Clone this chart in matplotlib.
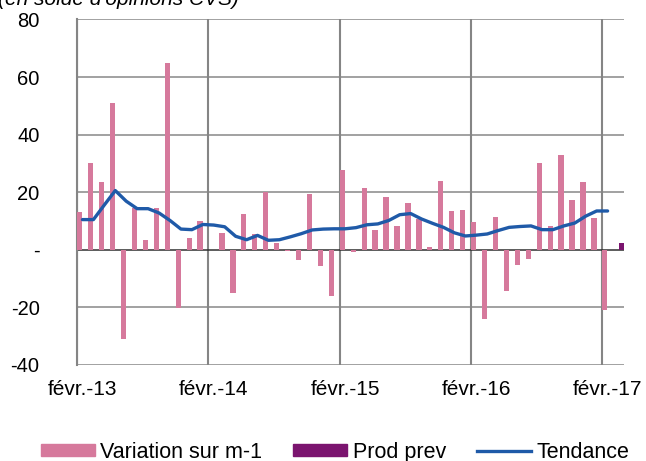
import matplotlib
matplotlib.use("Agg")
import matplotlib.pyplot as plt
from matplotlib.patches import Patch
from matplotlib.lines import Line2D
import numpy as np

plt.rcParams['font.family'] = ['Liberation Sans', 'DejaVu Sans']

# Months Feb 2013 .. Feb 2017 (49 months) + prevision for Mar 2017
variation = [13, 30, 23.5, 51, -31, 14.5, 3.2, 14.5, 65, -20.2, 4, 9.9,
             0, 5.8, -15, 12.4, 5.4, 19.9, 2.4, -0.6, -3.8, 19.4, -5.8, -16.3,
             27.8, -0.8, 21.4, 6.9, 18.4, 8.3, 16.3, 10.5, 0.8, 23.9, 13.4, 13.8,
             9.5, -24.3, 11.4, -14.5, -5.4, -3.4, 30.2, 8.3, 32.8, 17.1, 23.5, 10.9,
             -21.0]
tendance = [10.4, 10.4, 15.5, 20.5, 16.8, 14.2, 14.2, 12.7, 10.1, 7.1, 6.9, 8.7,
            8.5, 7.9, 4.6, 3.4, 4.9, 3.2, 3.4, 4.4, 5.5, 6.8, 7.1, 7.2,
            7.2, 7.6, 8.6, 8.9, 10.1, 12.1, 12.5, 10.6, 9.1, 7.7, 5.8, 4.7,
            5.0, 5.4, 6.6, 7.7, 8.0, 8.2, 6.9, 6.9, 8.2, 9.2, 11.6, 13.4,
            13.4]
prod_prev = [2.4]          # Mar 2017
tick_labels = ['févr.-13', 'févr.-14', 'févr.-15', 'févr.-16', 'févr.-17']
y_ticks = [-40, -20, 0, 20, 40, 60, 80]
y_labels = ['-40', '-20', '-', '20', '40', '60', '80']

pink = '#D6799C'
purple = '#7B146F'
blue = '#1F5AA8'

fig = plt.figure(figsize=(6.46, 4.61), dpi=100)
ax = fig.add_axes([77/646, 1-364.5/461, 547/646, 345/461])

n = len(variation)
x = np.arange(n)
ax.bar(x - 0.25, variation, width=0.48, color=pink, zorder=3)
xp = np.arange(n, n + len(prod_prev))
ax.bar(xp + 0.25, prod_prev, width=0.48, color=purple, zorder=3)
ax.plot(np.arange(len(tendance)), tendance, color=blue, lw=2.4, zorder=4,
        solid_capstyle='round', solid_joinstyle='round')

ax.set_xlim(-0.5, n + len(prod_prev) - 0.5)
ax.set_ylim(-40, 80)
ax.set_yticks(y_ticks)
ax.set_yticklabels(y_labels)
tick_pos = np.arange(0, n, 12)
ax.set_xticks(tick_pos)
ax.set_xticklabels(tick_labels)
ax.tick_params(axis='both', length=0)
ax.tick_params(axis='y', pad=27, labelsize=14.5)
ax.tick_params(axis='x', pad=11, labelsize=15)

for yv in y_ticks:
    if yv == 0:
        ax.axhline(0, color='#303030', lw=1.1, zorder=2)
    else:
        ax.axhline(yv, color='#9a9a9a', lw=1.3, zorder=1)
for xv in tick_pos:
    ax.axvline(xv - 0.5, color='#858585', lw=1.5, zorder=1)

for s in ['top', 'right', 'bottom']:
    ax.spines[s].set_visible(False)
ax.spines['left'].set_color('#858585')
ax.spines['left'].set_linewidth(1.5)

fig.text(-2/646, 1-5/461, "(en solde d'opinions CVS)", fontsize=15,
         style='italic', ha='left', va='baseline')

handles = [Patch(color=pink), Patch(color=purple), Line2D([], [], color=blue, lw=2.4)]
labels = ['Variation sur m-1', 'Prod prev', 'Tendance']
fig.legend(handles, labels, loc='center', bbox_to_anchor=(335/646, 1-452/461),
           ncol=3, frameon=False, fontsize=15.5, handlelength=2.5,
           handleheight=0.5, handletextpad=0.25, columnspacing=1.45,
           borderaxespad=0, borderpad=0)

fig.savefig('out.png', dpi=100)
